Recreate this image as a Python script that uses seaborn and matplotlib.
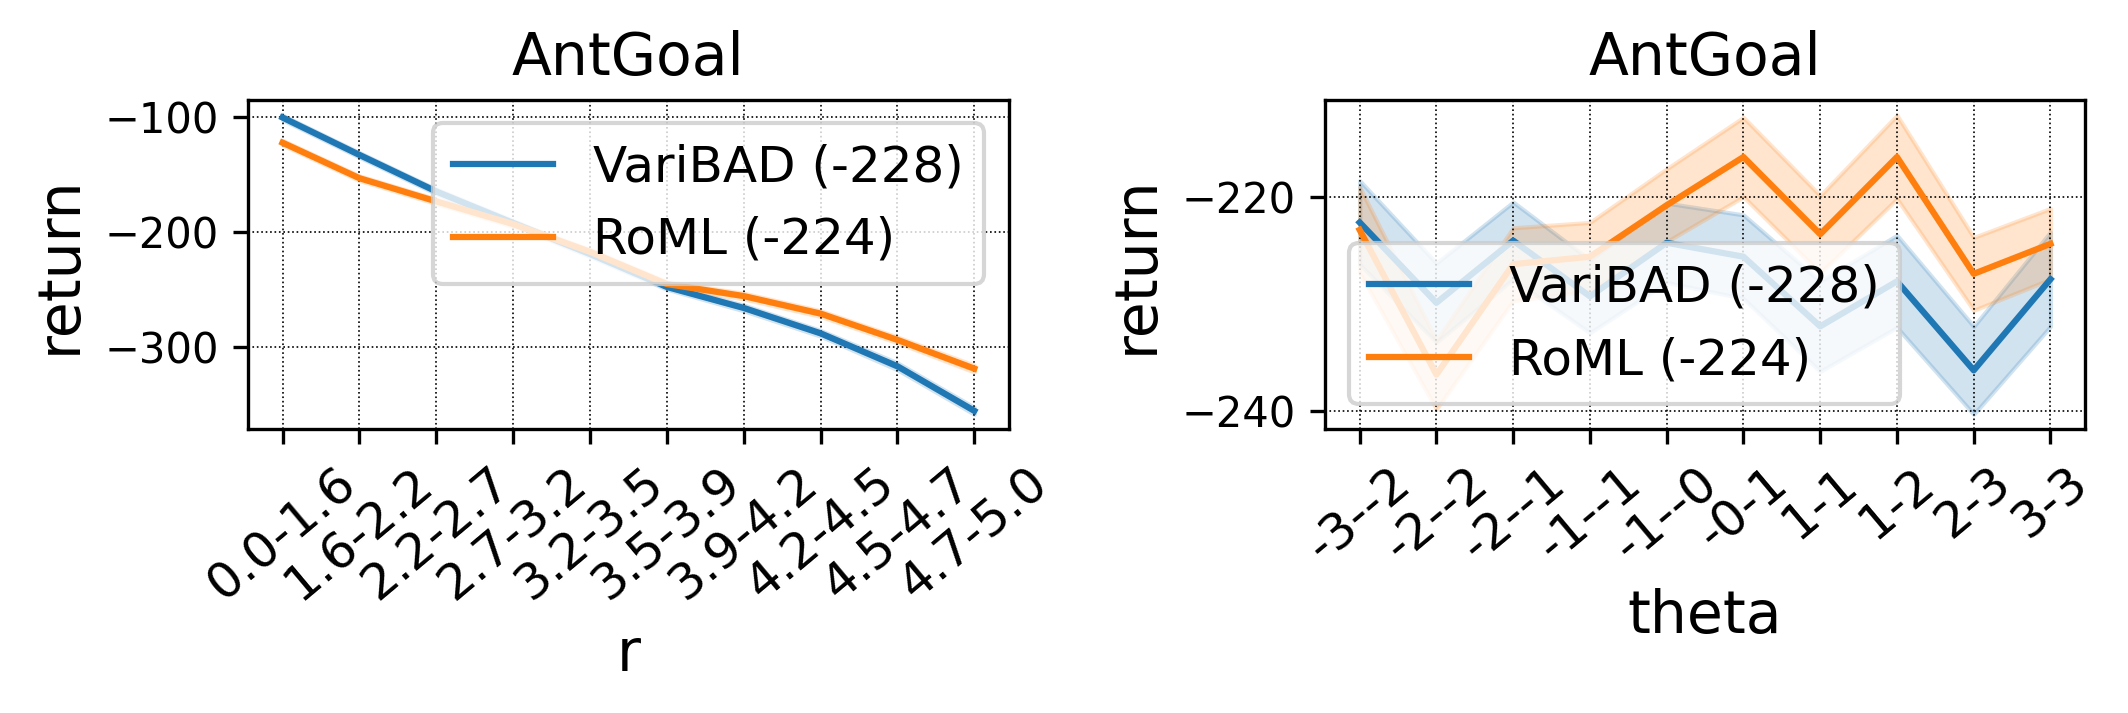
import numpy as np
import pandas as pd
import matplotlib
matplotlib.use("Agg")
import matplotlib.pyplot as plt
import seaborn as sns

# ---------------- data ----------------
r_labels = ["0.0-1.6", "1.6-2.2", "2.2-2.7", "2.7-3.2", "3.2-3.5",
            "3.5-3.9", "3.9-4.2", "4.2-4.5", "4.5-4.7", "4.7-5.0"]
r_varibad = [-100.6, -133.0, -164.7, -192.0, -219.0, -247.5, -265.7, -287.7, -316.3, -354.9]
r_varibad_err = [2.0, 2.0, 2.0, 2.0, 2.0, 2.0, 2.5, 2.5, 3.0, 3.0]
r_roml = [-122.4, -153.2, -173.3, -193.0, -217.0, -245.0, -255.4, -270.6, -293.4, -318.3]
r_roml_err = [2.0, 2.0, 2.0, 2.0, 2.0, 2.0, 2.5, 2.5, 2.5, 3.0]

theta_labels = ["-3--2", "-2--2", "-2--1", "-1--1", "-1--0",
                "-0-1", "1-1", "1-2", "2-3", "3-3"]
theta_varibad = [-222.4, -229.9, -224.1, -229.3, -224.3, -225.6, -232.1, -227.9, -236.2, -227.7]
theta_varibad_err = [3.9, 3.7, 3.6, 3.4, 3.7, 3.9, 4.2, 4.3, 4.1, 4.4]
theta_roml = [-223.1, -236.6, -226.3, -225.6, -220.8, -216.3, -223.5, -216.3, -227.2, -224.4]
theta_roml_err = [4.0, 3.2, 3.4, 3.2, 3.4, 3.7, 3.6, 3.9, 3.4, 3.3]

series_names = ["VariBAD (-228)", "RoML (-224)"]
colors = ["#1f77b4", "#ff7f0e"]

# ---------------- figure ----------------
fig = plt.figure(figsize=(2128 / 300, 713 / 300), dpi=300)
ax1 = fig.add_axes([0.1165, 0.398, 0.3576, 0.4614])
ax2 = fig.add_axes([0.6227, 0.398, 0.3571, 0.4614])


def draw(ax, labels, means, errs, xlabel, yticks, leg_anchor):
    pos = list(range(len(labels)))
    frames = []
    for name, m in zip(series_names, means):
        frames.append(pd.DataFrame({"pos": pos, "return": m, "method": name}))
    df = pd.concat(frames, ignore_index=True)
    sns.lineplot(data=df, x="pos", y="return", hue="method",
                 palette=colors, errorbar=None, linewidth=1.5, ax=ax)
    for m, e, c in zip(means, errs, colors):
        m = np.asarray(m)
        e = np.asarray(e)
        ax.fill_between(pos, m - e, m + e, color=c, alpha=0.2, linewidth=1.0)
    ax.set_xticks(pos)
    ax.set_xticklabels(labels, rotation=40, fontsize=12)
    ax.set_yticks(yticks)
    ax.tick_params(axis="y", labelsize=10)
    ax.set_xlabel(xlabel, fontsize=14)
    ax.set_ylabel("return", fontsize=14)
    ax.set_title("AntGoal", fontsize=14)
    ax.grid(True, linestyle=":", color="k", linewidth=0.4)
    ax.legend(fontsize=12, loc="upper left", bbox_to_anchor=leg_anchor,
              bbox_transform=fig.transFigure, borderaxespad=0)


draw(ax1, r_labels, [r_varibad, r_roml], [r_varibad_err, r_roml_err],
     "r", [-300, -200, -100], (433 / 2128, 1 - 123 / 713))
draw(ax2, theta_labels, [theta_varibad, theta_roml], [theta_varibad_err, theta_roml_err],
     "theta", [-240, -220], (1349 / 2128, 1 - 243 / 713))

fig.savefig("out.png", dpi=300)
